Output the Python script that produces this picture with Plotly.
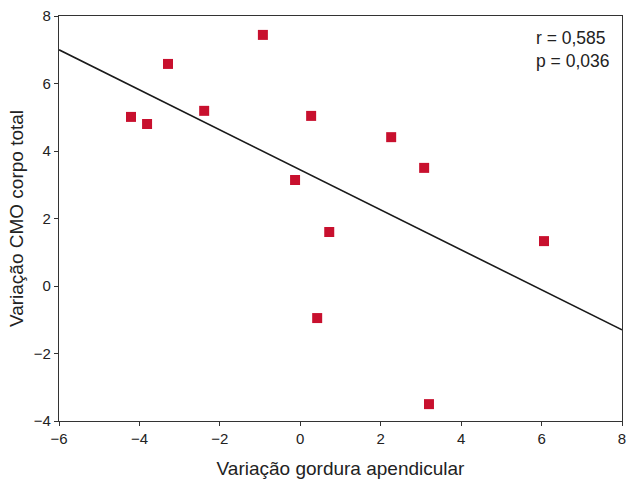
import plotly.graph_objects as go

x_vals = [-4.21, -3.81, -3.29, -2.39, -0.93, -0.13, 0.27, 0.42, 0.72, 2.26, 3.08, 3.2, 6.06]
y_vals = [5.01, 4.8, 6.58, 5.19, 7.44, 3.14, 5.04, -0.95, 1.6, 4.41, 3.5, -3.5, 1.33]
fit_x = [-6, 8]
fit_y = [7.0, -1.3]
x_ticks = [-6, -4, -2, 0, 2, 4, 6, 8]
y_ticks = [-4, -2, 0, 2, 4, 6, 8]

font = "Liberation Sans, Arial, sans-serif"
fig = go.Figure()
fig.add_trace(go.Scatter(x=fit_x, y=fit_y, mode="lines",
                         line=dict(color="#1a1a1a", width=1.6), showlegend=False))
fig.add_trace(go.Scatter(x=x_vals, y=y_vals, mode="markers",
                         marker=dict(symbol="square", size=10, color="#c8102e"),
                         showlegend=False))
fig.add_annotation(x=0.98, y=0.975, xref="paper", yref="paper",
                   xanchor="right", yanchor="top", align="left", showarrow=False,
                   text="r = 0,585<br>p = 0,036",
                   font=dict(family=font, size=17.5, color="#222"))
axis_common = dict(showgrid=False, zeroline=False, showline=True, linecolor="#333",
                   linewidth=1.3, mirror=True, ticks="outside", ticklen=4,
                   tickcolor="#333", automargin=False,
                   tickfont=dict(family=font, size=15, color="#222"))
fig.update_xaxes(range=[-6, 8], tickvals=x_ticks,
                 title=dict(text="Variação gordura apendicular",
                            font=dict(family=font, size=19, color="#222"), standoff=15),
                 **axis_common)
fig.update_yaxes(range=[-4, 8], tickvals=y_ticks,
                 title=dict(text="Variação CMO corpo total",
                            font=dict(family=font, size=19, color="#222"), standoff=5),
                 **axis_common)
fig.update_layout(width=627, height=482, margin=dict(l=59, r=5, t=16, b=61),
                  plot_bgcolor="white", paper_bgcolor="white")
fig.write_html("out.html", config={"displayModeBar": False},
               post_script="document.body.style.margin='0';")
